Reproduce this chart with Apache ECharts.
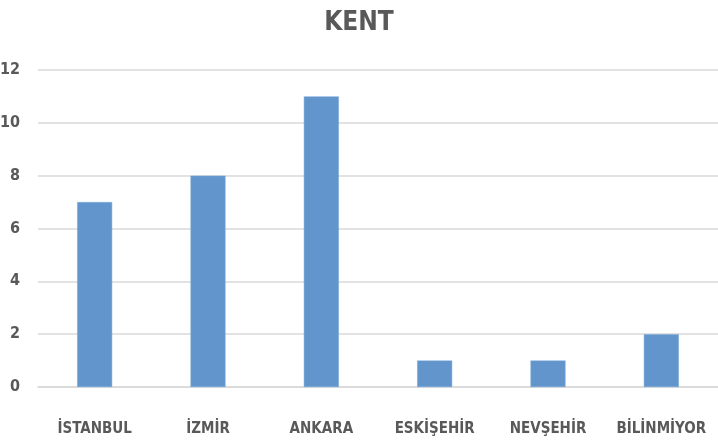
<!DOCTYPE html>
<html><head><meta charset="utf-8">
<script src="https://cdn.jsdelivr.net/npm/echarts@6/dist/echarts.min.js"></script>
<style>html,body{margin:0;padding:0;background:#fff}#c{width:718px;height:444px}</style>
</head><body><div id="c"></div>
<script>
const categories = ["İSTANBUL","İZMİR","ANKARA","ESKİŞEHİR","NEVŞEHİR","BİLİNMİYOR"];
const values = [7, 8, 11, 1, 1, 2];
const titleText = "KENT";
const FONT = '"DejaVu Sans Condensed", "Liberation Sans Narrow", sans-serif';
const chart = echarts.init(document.getElementById('c'));
chart.setOption({
  animation: false,
  title: { text: titleText, left: 'center', top: 5,
    textStyle: { fontFamily: FONT, fontWeight: 'bold', fontSize: 26, color: '#595959' } },
  grid: { left: 38, right: 0, top: 70, bottom: 57, outerBoundsMode: 'none', containLabel: false },
  xAxis: { type: 'category', data: categories,
    axisLine: { lineStyle: { color: '#d9d9d9', width: 1.5 } },
    axisTick: { show: false },
    axisLabel: { interval: 0, margin: 35, fontFamily: FONT, fontWeight: 'bold', fontSize: 15, color: '#595959' } },
  yAxis: { type: 'value', min: 0, max: 12, interval: 2,
    axisLine: { show: false }, axisTick: { show: false },
    splitLine: { lineStyle: { color: '#d9d9d9', width: 1.5 } },
    axisLabel: { margin: 18, fontFamily: FONT, fontWeight: 'bold', fontSize: 16, color: '#595959' } },
  series: [{ type: 'bar', data: values, barWidth: 35,
    itemStyle: { color: '#6195cc', borderColor: '#7aa8d6', borderWidth: 0.5 } }]
});
</script></body></html>
